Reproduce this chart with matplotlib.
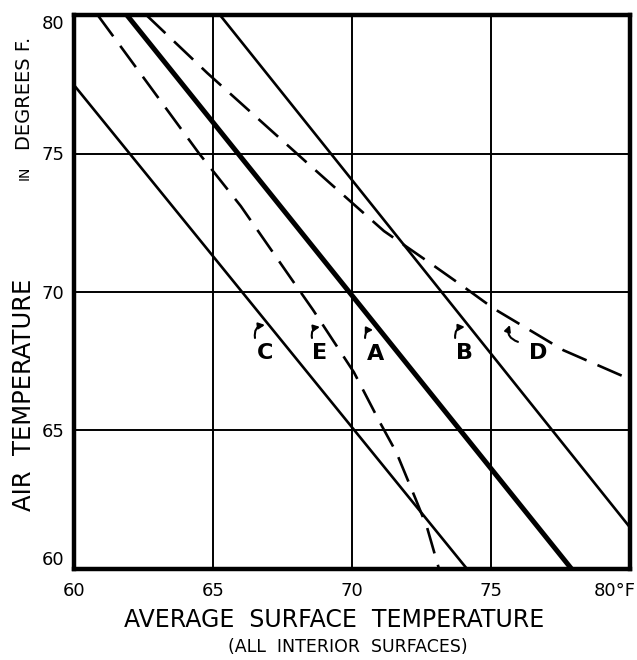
import matplotlib
matplotlib.use("Agg")
import matplotlib.pyplot as plt
import matplotlib.transforms as mtransforms

# ---- data ----
x_ticks = [60, 65, 70, 75, 80]
x_tick_labels = ["60", "65", "70", "75", "80°F"]
y_ticks = [60, 65, 70, 75, 80]
y_tick_labels = ["60", "65", "70", "75", "80"]

a_x = [61.9, 77.9]
a_y = [80, 60]
b_x = [65.25, 80.0]
b_y = [80, 61.5]
c_x = [60.0, 74.14]
c_y = [77.47, 60]
d_x = [62.6, 64.8, 68.4, 69.8, 71.15, 72.8, 74.0, 75.1, 77.6, 80.0]
d_y = [80.0, 77.9, 74.65, 73.4, 72.2, 71.05, 70.2, 69.4, 67.9, 66.85]
e_x = [60.85, 64.5, 66.0, 67.8, 68.6, 70.07, 71.0, 71.6, 72.3, 72.7, 73.13]
e_y = [80.0, 75.0, 73.1, 70.5, 69.35, 67.1, 65.3, 64.2, 62.5, 61.5, 60.0]

curve_labels = ["C", "E", "A", "B", "D"]
label_x = [66.87, 68.85, 70.83, 74.06, 76.69]
label_y = [67.8, 67.8, 67.75, 67.8, 67.8]
arrow_tail = [(66.51, 68.34), (68.56, 68.34), (70.47, 68.34), (73.71, 68.34), (75.97, 68.2)]
arrow_head = [(66.87, 68.81), (68.85, 68.74), (70.76, 68.63), (74.06, 68.74), (75.68, 68.81)]

# ---- figure ----
fig = plt.figure(figsize=(6.37, 6.60), dpi=100)
ax = fig.add_axes([74/637, 1-569/660, (630-74)/637, (569-15)/660])
ax.set_xlim(60, 80)
ax.set_ylim(60, 80)
ax.set_xticks(x_ticks, x_tick_labels)
ax.set_yticks(y_ticks, y_tick_labels)
ax.grid(True, color="black", lw=1.4)
ax.set_axisbelow(True)
ax.tick_params(length=0, labelsize=13, colors="black")
ax.tick_params(axis="x", pad=9)
ax.tick_params(axis="y", pad=7)
for s in ax.spines.values():
    s.set_linewidth(3.2)
    s.set_color("black")
    s.set_zorder(5)

yl = ax.get_yticklabels()
yl[-1].set_va("top")
yl[0].set_va("bottom")
xl = ax.get_xticklabels()
xl[-1].set_ha("right")
xl[-1].set_transform(xl[-1].get_transform() +
                     mtransforms.ScaledTranslation(6/100, 0, fig.dpi_scale_trans))

ax.plot(a_x, a_y, color="black", lw=3.6, solid_capstyle="butt")
ax.plot(b_x, b_y, color="black", lw=1.9)
ax.plot(c_x, c_y, color="black", lw=1.9)
ax.plot(d_x, d_y, color="black", lw=1.9, dashes=(10, 4.5))
ax.plot(e_x, e_y, color="black", lw=1.9, dashes=(10, 4.5))

rads = [-0.5, -0.5, -0.5, -0.5, -0.5]
for lab, lx, ly, t, h, r in zip(curve_labels, label_x, label_y, arrow_tail, arrow_head, rads):
    ax.text(lx, ly, lab, fontsize=16, fontweight="bold", ha="center", va="center")
    ax.annotate("", xy=h, xytext=t,
                arrowprops=dict(arrowstyle="-|>", connectionstyle=f"arc3,rad={r}",
                                lw=1.5, color="black", mutation_scale=9,
                                shrinkA=0, shrinkB=0))

# axis titles
fig.text(334/637, 1-620/660, "AVERAGE  SURFACE  TEMPERATURE", fontsize=17,
         ha="center", va="center")
fig.text(348/637, 1-647/660, "(ALL  INTERIOR  SURFACES)", fontsize=12.5,
         ha="center", va="center")
fig.text(24/637, 1-395/660, "AIR  TEMPERATURE", fontsize=17.5, rotation=90,
         ha="center", va="center")
fig.text(25/637, 1-173/660, "IN", fontsize=10, rotation=90,
         ha="center", va="center")
fig.text(25/637, 1-93/660, "DEGREES F.", fontsize=14, rotation=90,
         ha="center", va="center")

fig.savefig("out.png", dpi=100, facecolor="white")
